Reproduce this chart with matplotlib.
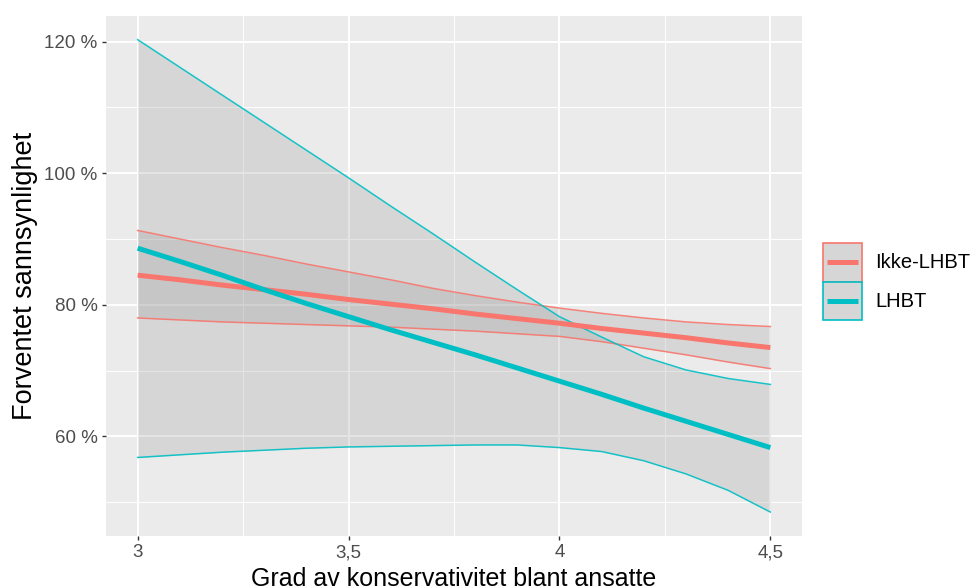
import matplotlib
matplotlib.use("Agg")
import matplotlib.pyplot as plt
from matplotlib.patches import Patch, Rectangle
from matplotlib.lines import Line2D
from matplotlib.ticker import FixedLocator

plt.rcParams['font.family'] = ['Liberation Sans', 'DejaVu Sans']

x = [3.0, 3.1, 3.2, 3.3, 3.4, 3.5, 3.6, 3.7, 3.8, 3.9, 4.0, 4.1, 4.2, 4.3, 4.4, 4.5]

ikke_fit = [84.5, 83.8, 83.0, 82.3, 81.6, 80.8, 80.1, 79.4, 78.6, 77.9, 77.2, 76.4, 75.7, 75.0, 74.2, 73.5]
ikke_hi = [91.3, 90.0, 88.7, 87.5, 86.2, 85.0, 83.8, 82.5, 81.4, 80.4, 79.5, 78.7, 78.0, 77.4, 77.0, 76.7]
ikke_lo = [78.0, 77.7, 77.4, 77.2, 77.0, 76.8, 76.6, 76.3, 76.0, 75.6, 75.2, 74.4, 73.4, 72.4, 71.3, 70.3]

lhbt_fit = [88.6, 86.6, 84.5, 82.3, 80.2, 78.2, 76.2, 74.3, 72.4, 70.4, 68.4, 66.4, 64.3, 62.3, 60.3, 58.3]
lhbt_hi = [120.3, 116.1, 111.9, 107.7, 103.5, 99.3, 95.0, 90.8, 86.5, 82.3, 78.2, 75.1, 72.1, 70.1, 68.8, 67.9]
lhbt_lo = [56.8, 57.2, 57.6, 57.9, 58.2, 58.4, 58.5, 58.6, 58.7, 58.7, 58.3, 57.7, 56.3, 54.3, 51.8, 48.5]

groups = ["Ikke-LHBT", "LHBT"]
colors = ["#F8766D", "#00BFC4"]

x_ticks = [3, 3.5, 4, 4.5]
x_ticklabels = ["3", "3,5", "4", "4,5"]
y_ticks = [60, 80, 100, 120]
y_ticklabels = ["60 %", "80 %", "100 %", "120 %"]


class KeyHandler:
    def __init__(self, color):
        self.color = color

    def legend_artist(self, legend, orig_handle, fontsize, handlebox):
        x0, y0 = handlebox.xdescent, handlebox.ydescent
        w, h = handlebox.width, handlebox.height
        tr = handlebox.get_transform()
        rect = Rectangle((-x0, -y0), w, h, facecolor="#D6D6D6",
                         edgecolor=self.color, lw=1.2, transform=tr)
        line = Line2D([-x0 + 0.1 * w, -x0 + 0.9 * w], [-y0 + h / 2] * 2,
                      color=self.color, lw=3.6, solid_capstyle='butt', transform=tr)
        handlebox.add_artist(rect)
        handlebox.add_artist(line)
        return rect


fig = plt.figure(figsize=(9.71, 5.86), dpi=100)
ax = fig.add_axes([106/971, 1-535.7/586, 696/971, 519.7/586])
ax.set_facecolor("#EBEBEB")

series = [(ikke_fit, ikke_lo, ikke_hi), (lhbt_fit, lhbt_lo, lhbt_hi)]
for (fit, lo, hi), c in zip(series, colors):
    ax.fill_between(x, lo, hi, color="#999999", alpha=0.25, linewidth=0, zorder=2)
for (fit, lo, hi), c in zip(series, colors):
    ax.plot(x, lo, color=c, lw=1.1, alpha=0.9, zorder=3)
    ax.plot(x, hi, color=c, lw=1.1, alpha=0.9, zorder=3)
for (fit, lo, hi), c in zip(series, colors):
    ax.plot(x, fit, color=c, lw=3.6, zorder=4, solid_capstyle='butt')

xmin, xmax = min(x), max(x)
allv = ikke_lo + ikke_hi + lhbt_lo + lhbt_hi
ymin, ymax = min(allv), max(allv)
ax.set_xlim(xmin - 0.05*(xmax-xmin), xmax + 0.05*(xmax-xmin))
ax.set_ylim(ymin - 0.05*(ymax-ymin), ymax + 0.05*(ymax-ymin))

ax.set_xticks(x_ticks)
ax.set_xticklabels(x_ticklabels)
ax.set_yticks(y_ticks)
ax.set_yticklabels(y_ticklabels)
ax.xaxis.set_minor_locator(FixedLocator([3.25, 3.75, 4.25]))
ax.yaxis.set_minor_locator(FixedLocator([50, 70, 90, 110]))
ax.grid(which='major', color='white', lw=1.4, zorder=1)
ax.grid(which='minor', color='white', lw=0.7, zorder=1)
ax.set_axisbelow(True)
for s in ax.spines.values():
    s.set_visible(False)
ax.tick_params(which='major', length=3, width=1, color='#333333', labelsize=13.5, labelcolor='#4D4D4D', pad=3)
ax.tick_params(which='minor', length=0)

ax.set_xlabel("Grad av konservativitet blant ansatte", fontsize=18, color='black')
ax.set_ylabel("Forventet sannsynlighet", fontsize=19.5, color='black')
ax.xaxis.set_label_coords(0.5, -0.061)
ax.xaxis.label.set_va('top')
ax.yaxis.set_label_coords(-0.098, 0.5)

handles = [Patch(facecolor="#D6D6D6", edgecolor=c) for c in colors]
hmap = {h: KeyHandler(c) for h, c in zip(handles, colors)}
leg = ax.legend(handles, groups, handler_map=hmap,
                loc='center left', bbox_to_anchor=(1.0306, 0.489), frameon=False,
                fontsize=14.5, handlelength=1.93, handleheight=2.59, labelspacing=0,
                handletextpad=0.66, borderaxespad=0, borderpad=0)

fig.savefig("out.png", dpi=100, facecolor='white')
